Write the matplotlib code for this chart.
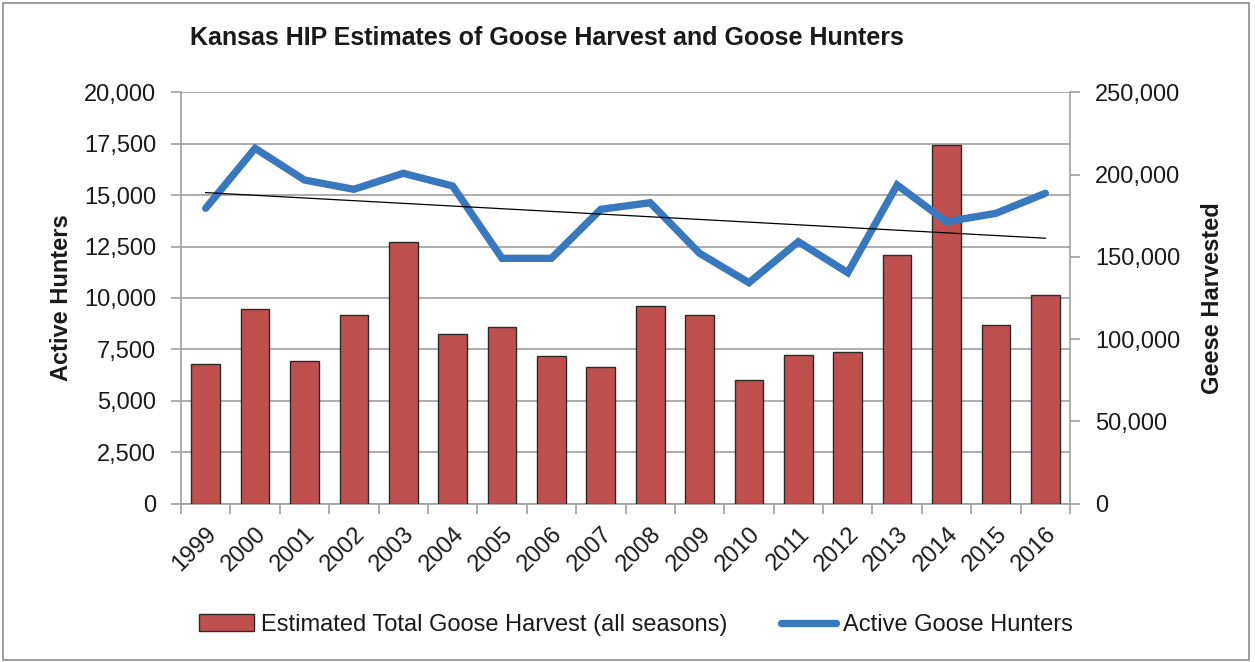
import numpy as np
import matplotlib
matplotlib.use("Agg")
import matplotlib.pyplot as plt
from matplotlib.patches import Rectangle
from matplotlib.lines import Line2D
import matplotlib.ticker as mticker

years = ["1999", "2000", "2001", "2002", "2003", "2004", "2005", "2006", "2007",
         "2008", "2009", "2010", "2011", "2012", "2013", "2014", "2015", "2016"]
harvest = [84800, 118250, 86640, 114600, 158800, 103050, 107500, 89680, 83200,
           120075, 114800, 75090, 90290, 91920, 151080, 217960, 108330, 126760]
hunters = [14358, 17276, 15734, 15282, 16060, 15443, 11926, 11926, 14309,
           14630, 12169, 10740, 12733, 11226, 15491, 13706, 14114, 15088]

FONT = ["Liberation Sans", "DejaVu Sans"]
plt.rcParams["font.family"] = FONT

W, H = 1255, 662
fig = plt.figure(figsize=(W / 100, H / 100), dpi=100)

pos = [181 / W, 1 - 503.5 / H, (1070 - 181) / W, (503.5 - 92.3) / H]
GRID = "#a0a0a0"
BAR = "#c0504d"
LINE = "#3a78bd"
TXT = "#1a1a1a"
FS = 17

ax = fig.add_axes(pos)
ax2 = fig.add_axes(pos, sharex=ax)
ax3 = fig.add_axes(pos, sharex=ax, sharey=ax)
ax.set_zorder(1)
ax2.set_zorder(2)
ax3.set_zorder(3)
ax2.patch.set_visible(False)
ax3.patch.set_visible(False)

x = np.arange(len(years))

# left axis (hunters) with gridlines
ax.set_xlim(-0.5, len(years) - 0.5)
ax.set_ylim(0, 20000)
ax.set_yticks(np.arange(0, 20001, 2500))
ax.yaxis.set_major_formatter(mticker.StrMethodFormatter("{x:,.0f}"))
ax.grid(axis="y", color=GRID, lw=1.2)
ax.set_axisbelow(True)
for s in ["top", "right"]:
    ax.spines[s].set_visible(False)
for s in ["left", "bottom"]:
    ax.spines[s].set_color(GRID)
    ax.spines[s].set_linewidth(1.2)
ax.tick_params(axis="y", length=7, width=1.2, color=GRID, pad=11, labelsize=FS,
               labelcolor=TXT)
ax.set_xticks(x)
ax.set_xticklabels(years, rotation=45, ha="right", rotation_mode="anchor", fontsize=FS,
                   color=TXT)
ax.tick_params(axis="x", length=0, pad=14)
ax.set_xticks(np.arange(-0.5, len(years), 1.0), minor=True)
ax.tick_params(axis="x", which="minor", length=7, width=1.2, color=GRID)
ax.set_ylabel("Active Hunters", fontsize=FS, fontweight="bold", labelpad=8, color=TXT)

# right axis (harvest) bars
ax2.bar(x, harvest, width=0.58, color=BAR, edgecolor="#2a2a2a", linewidth=1.0)
ax2.set_ylim(0, 250000)
ax2.set_yticks(np.arange(0, 250001, 50000))
ax2.yaxis.set_major_formatter(mticker.StrMethodFormatter("{x:,.0f}"))
ax2.yaxis.tick_right()
ax2.yaxis.set_label_position("right")
for s in ["top", "left", "bottom"]:
    ax2.spines[s].set_visible(False)
ax2.spines["right"].set_color(GRID)
ax2.spines["right"].set_linewidth(1.2)
ax2.tick_params(axis="y", length=7, width=1.2, color=GRID, pad=11, labelsize=FS,
                labelcolor=TXT)
ax2.tick_params(axis="x", which="both", length=0, labelbottom=False)
ax2.set_ylabel("Geese Harvested", fontsize=FS, fontweight="bold", rotation=90,
               labelpad=15, color=TXT)

# line + trend
ax3.plot(x, hunters, color=LINE, lw=5.3, solid_capstyle="round", solid_joinstyle="miter")
coef = np.polyfit(x, hunters, 1)
ax3.plot(x, np.polyval(coef, x), color="black", lw=0.9)
ax3.axis("off")

fig.text(190 / W, 1 - 38 / H, "Kansas HIP Estimates of Goose Harvest and Goose Hunters",
         ha="left", va="center", fontsize=18, fontweight="bold", color=TXT)

hb = Rectangle((0, 0), 1, 1, facecolor=BAR, edgecolor="#2a2a2a", lw=1.0)
hl = Line2D([0], [0], color=LINE, lw=5.3, solid_capstyle="round")
fig.legend([hb, hl], ["Estimated Total Goose Harvest (all seasons)", "Active Goose Hunters"],
           loc="center", bbox_to_anchor=(636 / W, 1 - 625 / H), ncol=2, frameon=False,
           fontsize=FS, handlelength=2.3, handletextpad=0.3, columnspacing=2.3,
           labelcolor=TXT)

fig.patches.append(Rectangle((3 / W, 2 / H), (1249 - 3) / W, (659 - 2) / H,
                             transform=fig.transFigure, fill=False,
                             edgecolor="#8c8c8c", lw=1.2))

fig.savefig("out.png", dpi=100)
